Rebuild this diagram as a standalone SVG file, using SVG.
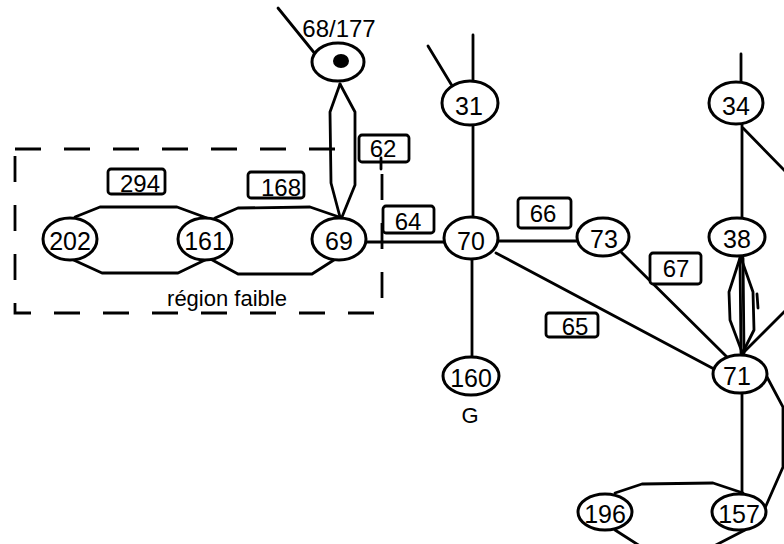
<svg xmlns="http://www.w3.org/2000/svg" width="784" height="544" viewBox="0 0 784 544">
<style>
.e{fill:none;stroke:#000;stroke-width:2.8;stroke-linejoin:round;stroke-linecap:round}
.n{fill:#fff;stroke:#000;stroke-width:3}
.b{fill:#fff;stroke:#000;stroke-width:2.8}
.t{font-family:"Liberation Sans",Arial,sans-serif;font-size:25px;fill:#000;text-anchor:middle}
.l{font-family:"Liberation Sans",Arial,sans-serif;font-size:24px;fill:#000;text-anchor:middle}
.s{font-family:"Liberation Sans",Arial,sans-serif;font-size:22px;fill:#000;text-anchor:middle}
.d{fill:none;stroke:#000;stroke-width:2.8;stroke-dasharray:26 23}
</style>
<rect width="784" height="544" fill="#fff"/>
<g id="region">
<path class="d" d="M15,149 H382 V313 H15 Z"/>
<text class="s" x="227" y="306">région faible</text>
</g>
<g id="connectors">
<line class="e" x1="278" y1="8" x2="316" y2="55"/>
<polyline class="e" points="340,84 330,112 331,183 340,217"/>
<polyline class="e" points="340,84 355,112 355,185 342,217"/>
<polyline class="e" points="75,217 100,207 177,207 207,218"/>
<polyline class="e" points="67,257 102,273 178,273 205,260"/>
<polyline class="e" points="215,218 238,208 310,207 342,218"/>
<polyline class="e" points="205,256 238,274 312,274 337,258"/>
<line class="e" x1="366" y1="242" x2="444" y2="242"/>
<line class="e" x1="473" y1="35" x2="473" y2="81"/>
<line class="e" x1="428" y1="46" x2="454" y2="89"/>
<line class="e" x1="473" y1="125" x2="473" y2="217"/>
<line class="e" x1="498" y1="241" x2="577" y2="241"/>
<line class="e" x1="472" y1="259" x2="472" y2="357"/>
<line class="e" x1="496" y1="253" x2="714" y2="369"/>
<line class="e" x1="620" y1="251" x2="728" y2="358"/>
<line class="e" x1="741" y1="54" x2="741" y2="82"/>
<line class="e" x1="742" y1="124" x2="742" y2="217"/>
<line class="e" x1="743" y1="128" x2="786" y2="172"/>
<line class="e" x1="743" y1="353" x2="786" y2="310"/>
<polyline class="e" points="740,258 729,292 730,320 742,352"/>
<line class="e" x1="740" y1="258" x2="741" y2="353"/>
<line class="e" x1="743" y1="258" x2="744" y2="353"/>
<polyline class="e" points="741,258 753,292 754,330 743,352"/>
<line class="e" x1="757" y1="294" x2="758" y2="308"/>
<line class="e" x1="742" y1="393" x2="742" y2="494"/>
<polyline class="e" points="767,377 783,407 783,467 765,508"/>
<polyline class="e" points="615,493 642,484 713,483 743,493"/>
<line class="e" x1="615" y1="530" x2="640" y2="546"/>
<line class="e" x1="745" y1="530" x2="714" y2="546"/>
</g>
<g id="lbl294"><rect class="b" x="108" y="169" width="57" height="25" rx="3"/><text class="l" x="140" y="192">294</text></g>
<g id="lbl168"><rect class="b" x="248" y="172" width="56" height="26" rx="3"/><text class="l" x="281" y="196">168</text></g>
<g id="lbl62"><rect class="b" x="359" y="135" width="50" height="27" rx="3"/><text class="l" x="383" y="157">62</text><line class="e" x1="381" y1="158" x2="381" y2="169"/></g>
<g id="lbl64"><rect class="b" x="383" y="206" width="51" height="27" rx="3"/><text class="l" x="408" y="230">64</text></g>
<g id="lbl66"><rect class="b" x="518" y="198" width="53" height="30" rx="3"/><text class="l" x="543" y="222">66</text></g>
<g id="lbl67"><rect class="b" x="650" y="253" width="51" height="31" rx="3"/><text class="l" x="676" y="277">67</text></g>
<g id="lbl65"><rect class="b" x="546" y="313" width="52" height="24" rx="3"/><text class="l" x="575" y="335">65</text></g>
<g id="n68177"><ellipse class="n" cx="338" cy="62" rx="26" ry="19"/><ellipse cx="341" cy="61" rx="8" ry="7" fill="#000"/><text class="l" x="339" y="37">68/177</text></g>
<g id="n31"><ellipse class="n" cx="470" cy="103" rx="28" ry="22"/><text class="t" x="469" y="115">31</text></g>
<g id="n34"><ellipse class="n" cx="736" cy="103" rx="27" ry="21"/><text class="t" x="736" y="115">34</text></g>
<g id="n202"><ellipse class="n" cx="70" cy="239" rx="27" ry="21"/><text class="t" x="70" y="250">202</text></g>
<g id="n161"><ellipse class="n" cx="205" cy="239" rx="27" ry="21"/><text class="t" x="205" y="250">161</text></g>
<g id="n69"><ellipse class="n" cx="339" cy="239" rx="27" ry="21"/><text class="t" x="339" y="250">69</text></g>
<g id="n70"><ellipse class="n" cx="471" cy="238" rx="27" ry="21"/><text class="t" x="471" y="250">70</text></g>
<g id="n73"><ellipse class="n" cx="603" cy="237" rx="26" ry="19"/><text class="t" x="604" y="248">73</text></g>
<g id="n38"><ellipse class="n" cx="737" cy="237" rx="28" ry="19"/><text class="t" x="737" y="248">38</text></g>
<g id="n160"><ellipse class="n" cx="471" cy="376" rx="28" ry="19"/><text class="t" x="471" y="387">160</text><text class="s" x="470" y="423">G</text></g>
<g id="n71"><ellipse class="n" cx="740" cy="374" rx="27" ry="19"/><text class="t" x="737" y="385">71</text></g>
<g id="n196"><ellipse class="n" cx="605" cy="512" rx="27" ry="18"/><text class="t" x="605" y="523">196</text></g>
<g id="n157"><ellipse class="n" cx="739" cy="512" rx="27" ry="18"/><text class="t" x="739" y="523">157</text></g>
</svg>
